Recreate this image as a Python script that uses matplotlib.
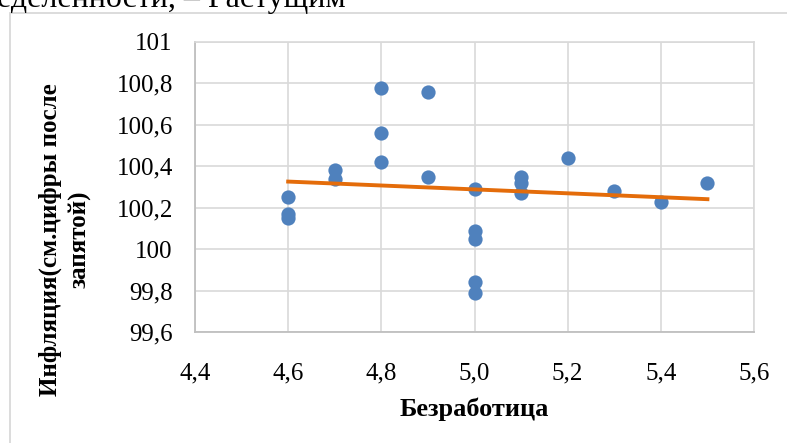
import matplotlib.pyplot as plt
from matplotlib.patches import Rectangle
import numpy as np

plt.rcParams['font.family'] = ['Liberation Serif', 'DejaVu Serif']

# безработица / инфляция
unemp = [4.6, 4.6, 4.6, 4.7, 4.7, 4.8, 4.8, 4.8, 4.9, 4.9,
         5.0, 5.0, 5.0, 5.0, 5.0, 5.1, 5.1, 5.1, 5.2, 5.3, 5.4, 5.5]
infl = [100.25, 100.17, 100.15, 100.38, 100.34, 100.78, 100.56, 100.42, 100.76, 100.35,
        100.29, 100.09, 100.05, 99.84, 99.79, 100.35, 100.32, 100.27, 100.44, 100.28, 100.23, 100.32]

xticks = [4.4, 4.6, 4.8, 5.0, 5.2, 5.4, 5.6]
yticks = [99.6, 99.8, 100, 100.2, 100.4, 100.6, 100.8, 101]
xlabels = ['4,4', '4,6', '4,8', '5,0', '5,2', '5,4', '5,6']
ylabels = ['99,6', '99,8', '100', '100,2', '100,4', '100,6', '100,8', '101']

fig = plt.figure(figsize=(7.87, 4.43), dpi=100)
ax = fig.add_axes([195/787, 1-332/443, (754-195)/787, (332-42)/443])

# рамка диаграммы
fig.patches.append(Rectangle((10/787, -0.1), 1.2, 1-13/443+0.1, transform=fig.transFigure,
                             fill=False, edgecolor='#d9d9d9', linewidth=1.3))
fig.text(-0.004, 1-7/443, 'еделенности, – Растущим', fontsize=23, va='baseline', ha='left')

ax.scatter(unemp, infl, s=105, color='#4f81bd', zorder=3, linewidths=0)

k, b = np.polyfit(unemp, infl, 1)
xt = np.array([min(unemp), max(unemp)])
ax.plot(xt, k*xt + b, color='#e46c0a', linewidth=2.8, zorder=4)

ax.set_xlim(4.4, 5.6)
ax.set_ylim(99.6, 101)
ax.set_xticks(xticks)
ax.set_xticklabels(xlabels)
ax.set_yticks(yticks)
ax.set_yticklabels(ylabels)
ax.tick_params(length=0, labelsize=18)
ax.tick_params(axis='x', pad=22)
ax.tick_params(axis='y', pad=16)
ax.grid(color='#d9d9d9', linewidth=1.2)
ax.set_axisbelow(True)
for s in ['top', 'right']:
    ax.spines[s].set_color('#d9d9d9')
    ax.spines[s].set_linewidth(1.2)
for s in ['left', 'bottom']:
    ax.spines[s].set_color('#bfbfbf')
    ax.spines[s].set_linewidth(1.3)

ax.set_xlabel('Безработица', fontsize=19, fontweight='bold')
ax.xaxis.set_label_coords(0.5, -0.225)
ax.set_ylabel('Инфляция(см.цифры после\nзапятой)', fontsize=18, fontweight='bold',
              linespacing=1.35)
ax.yaxis.set_label_coords(-0.185, 0.32)

fig.savefig('out.png', dpi=100)
